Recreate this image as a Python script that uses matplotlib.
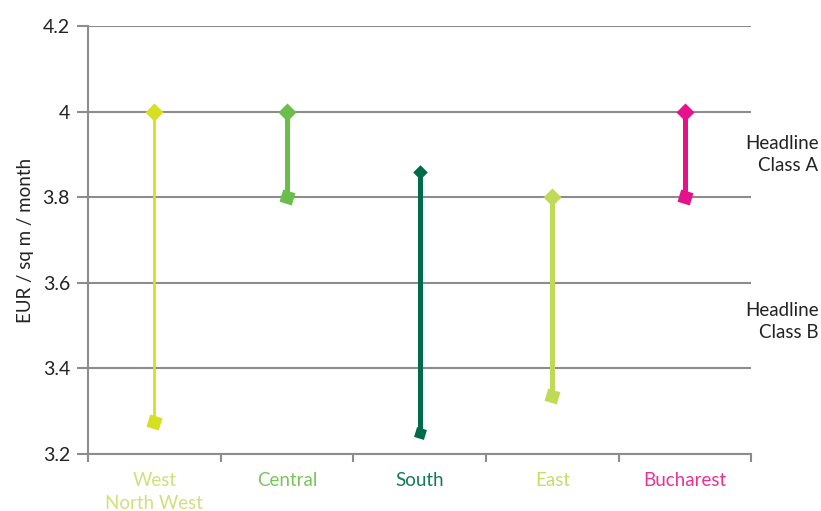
import matplotlib
matplotlib.use("Agg")
import matplotlib.pyplot as plt
from matplotlib import font_manager

categories = ["West\nNorth West", "Central", "South", "East", "Bucharest"]
high_values = [4.0, 4.0, 3.86, 3.80, 4.0]
low_values = [3.275, 3.80, 3.25, 3.335, 3.80]
line_colors = ["#d5e022", "#6abf4b", "#006b48", "#c0d957", "#e8118c"]
label_colors = ["#cfe07c", "#78c65a", "#137a56", "#c6dc6c", "#ec3094"]
line_widths = [2.0, 3.6, 3.6, 3.6, 3.6]
marker_sizes = [13, 13, 10.5, 13, 13]
yticks = [3.2, 3.4, 3.6, 3.8, 4.0, 4.2]
ytick_labels = ["3.2", "3.4", "3.6", "3.8", "4", "4.2"]
band_labels = ["Headline\nClass A", "Headline\nClass B"]
band_positions = [3.9, 3.51]

names = {f.name for f in font_manager.fontManager.ttflist}
main_font = "Lato" if "Lato" in names else "DejaVu Sans"
num_font = "Liberation Sans Narrow" if "Liberation Sans Narrow" in names else main_font

fig = plt.figure(figsize=(8.21, 5.11), dpi=100)
ax = fig.add_axes([0.1072, 0.1115, 0.8080, 0.8376])

grid_c = "#8c8c8c"
x = list(range(len(categories)))
for i in x:
    ax.plot([i, i], [low_values[i], high_values[i]], color=line_colors[i],
            lw=line_widths[i], solid_capstyle="butt", zorder=3)
    ax.plot([i], [high_values[i]], marker=(4, 0, 0), ms=marker_sizes[i],
            color=line_colors[i], mec="none", zorder=4)
    ax.plot([i], [low_values[i]], marker=(4, 0, 28), ms=marker_sizes[i],
            color=line_colors[i], mec="none", zorder=4)

ax.set_xlim(-0.5, len(categories) - 0.5)
ax.set_ylim(3.2, 4.2)
ax.set_yticks(yticks)
ax.set_yticklabels(ytick_labels, fontfamily=num_font, fontsize=14)
ax.yaxis.grid(True, color=grid_c, lw=1.5)
ax.set_axisbelow(True)

ax.set_xticks([i + 0.5 for i in range(-1, len(categories))], minor=False)
ax.set_xticklabels([])
ax.set_xticks(x, minor=True)
ax.set_xticklabels(categories, minor=True, fontfamily=main_font, fontsize=13.5,
                   linespacing=1.4)
for lab, c in zip(ax.get_xticklabels(minor=True), label_colors):
    lab.set_color(c)
ax.tick_params(axis="x", which="minor", length=0, pad=13)
ax.tick_params(axis="x", which="major", length=6, width=1.5, color=grid_c)
ax.tick_params(axis="y", length=8, width=1.5, color=grid_c, pad=5, labelcolor="#222222")

for s in ["top", "right"]:
    ax.spines[s].set_visible(False)
for s in ["left", "bottom"]:
    ax.spines[s].set_color(grid_c)
    ax.spines[s].set_linewidth(1.5)

ax.set_ylabel("EUR / sq m / month", fontfamily=main_font, fontsize=13.5,
              color="#222222", labelpad=6)

for t, yv in zip(band_labels, band_positions):
    ax.text(1.101, yv, t, transform=ax.get_yaxis_transform(), ha="right",
            va="center", fontfamily=main_font, fontsize=13.5, color="#222222",
            linespacing=1.35)

fig.savefig("out.png", dpi=100)
